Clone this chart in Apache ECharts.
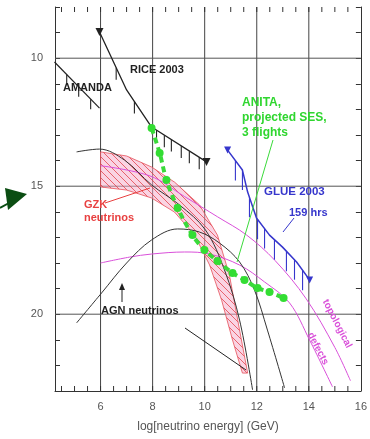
<!DOCTYPE html>
<html><head><meta charset="utf-8">
<script src="https://cdn.jsdelivr.net/npm/echarts@6/dist/echarts.min.js"></script>
<style>html,body{margin:0;padding:0;background:#fff}#c{width:370px;height:439px}</style>
</head><body><div id="c"></div>
<script>
// ---- axes ----
const X_MIN = 4.25, X_MAX = 16, Y_MIN = 8, Y_MAX = 23;
const xGridLines = [6, 8, 10, 12, 14];
const yGridLines = [10, 15, 20];
const xMinorTicks = [4.5,5,5.5,6,6.5,7,7.5,8,8.5,9,9.5,10,10.5,11,11.5,12,12.5,13,13.5,14,14.5,15,15.5];
const xTickLabels = [6, 8, 10, 12, 14, 16];
const yTickLabels = [10, 15, 20];

// ---- experimental upper limits ----
const amandaLimit = [[4.23,10.15],[5.96,11.95]];
const amandaArrows = [[4.7,10.64],[5.16,11.12],[5.62,11.6]];
const riceLimit = [[5.96,8.98],[7.0,11.24],[7.96,12.69],[10.07,14.05]];
const riceArrows = [[6.6,10.37],[7.3,11.69],[8.15,12.81],[8.45,13.01],[8.72,13.18],[9.1,13.43],[9.41,13.63],[9.79,13.87]];
const glueLimit = [[10.88,13.59],[11.45,14.37],[11.65,15.23],[11.99,16.24],[12.49,16.91],[12.99,17.38],[13.53,17.96],[14.03,18.66]];
const glueArrows = [[11.18,14.0],[11.45,14.37],[11.72,15.43],[12.03,16.29],[12.3,16.65],[12.68,17.09],[13.14,17.54],[13.45,17.87],[13.76,18.28]];

// ---- ANITA projected sensitivity ----
const anitaSes = [[7.96,12.73],[8.27,13.7],[8.53,14.76],[8.96,15.85],[9.53,16.91],[9.99,17.49],[10.49,17.92],[11.07,18.39],[11.53,18.66],[12.03,18.98],[12.49,19.13],[13.03,19.37]];

// ---- model fluxes ----
const gzkUpper = [[6.0,13.66],[7.0,13.82],[7.96,14.25],[8.84,14.84],[9.8,15.73],[10.49,16.91],[10.95,18.47],[11.34,20.62],[11.65,22.3]];
const gzkLower = [[6.0,15.03],[7.0,15.15],[7.96,15.46],[8.84,16.01],[9.61,16.91],[10.19,18.08],[10.65,19.45],[11.07,21.01],[11.45,22.3]];
const modelBlackA = [[5.08,13.66],[5.96,13.55],[6.92,13.98],[7.96,14.95],[9.03,15.73],[10.03,16.71],[10.76,18.27],[11.34,20.23],[11.84,22.96]];
const agnFlux = [[5.08,20.34],[6.04,19.17],[7.0,18.0],[7.96,17.1],[8.96,16.67],[9.8,16.79],[10.57,17.22],[11.34,17.96],[11.91,19.05],[12.41,20.62],[13.07,22.88]];
const magentaLow = [[6.0,18.0],[7.11,17.77],[7.96,17.65],[9.23,17.57],[10.19,17.65],[11.34,18.08],[12.3,18.74],[13.26,19.56],[14.03,21.01],[14.91,22.84]];
const magentaHigh = [[6.0,14.2],[7.9,14.6],[9.22,15.4],[10.5,16.2],[11.6,16.9],[12.7,17.9],[13.9,19.4],[15.0,21.3],[15.6,22.6]];

const chart = echarts.init(document.getElementById('c'));

// diagonal red hatching for the GZK band
const hatch = document.createElement('canvas');
hatch.width = 7; hatch.height = 7;
(function(){
  const g = hatch.getContext('2d');
  g.fillStyle = 'rgba(245,170,200,0.5)';
  g.fillRect(0,0,7,7);
  g.strokeStyle = 'rgba(225,60,70,0.75)';
  g.lineWidth = 1;
  g.beginPath();
  g.moveTo(-1,-1); g.lineTo(8,8);
  g.moveTo(-1,6); g.lineTo(1,8);
  g.moveTo(6,-1); g.lineTo(8,1);
  g.stroke();
})();

function arrowSeries(data, color, len) {
  return {
    type: 'custom', data: data, clip: true, z: 4, silent: true,
    renderItem(params, api) {
      const p = api.coord([api.value(0), api.value(1)]);
      return { type: 'line', shape: {x1:p[0], y1:p[1], x2:p[0], y2:p[1]+len},
               style: {stroke: color, lineWidth: 1.1} };
    }
  };
}
function curve(data, color, width, extra) {
  return Object.assign({
    type: 'line', data: data, smooth: 0.35, showSymbol: false, z: 3,
    lineStyle: {color: color, width: width}, silent: true
  }, extra || {});
}
// markers only at both ends of a limit curve
function endMarkers(n) {
  return (v, p) => (p.dataIndex === 0 || p.dataIndex === n - 1) ? 'triangle' : 'none';
}

const font = '"Liberation Sans", Arial, sans-serif';
function txt(x, y, s, color, size, bold, rot) {
  return {type:'text', x:x, y:y, rotation: rot || 0, z: 10,
    style:{text:s, fill:color, font:(bold?'bold ':'')+size+'px '+font, verticalAlign:'middle'}};
}
function seg(x1,y1,x2,y2,color,w){
  return {type:'line', z:10, shape:{x1,y1,x2,y2}, style:{stroke:color, lineWidth:w||1}};
}

chart.setOption({
  animation: false,
  grid: {left: 55, right: 9, top: 7, bottom: 48},
  xAxis: {
    type: 'value', min: X_MIN, max: X_MAX, interval: 0.25,
    name: 'log[neutrino energy] (GeV)', nameLocation: 'middle', nameGap: 30,
    nameTextStyle: {color: '#555', fontSize: 12, fontFamily: font},
    axisLine: {lineStyle: {color: '#333'}},
    axisTick: {show: false}, splitLine: {show: false},
    axisLabel: {color: '#555', fontSize: 11, fontFamily: font, margin: 10,
      showMinLabel: true, showMaxLabel: true,
      formatter: v => xTickLabels.indexOf(Math.round(v*100)/100) >= 0 ? String(Math.round(v)) : ''}
  },
  yAxis: [{
    type: 'value', min: Y_MIN, max: Y_MAX, interval: 1, inverse: true,
    axisLine: {lineStyle: {color: '#333'}},
    axisTick: {inside: true, length: 5, lineStyle: {color: '#333'}},
    splitLine: {show: false},
    axisLabel: {color: '#555', fontSize: 11, fontFamily: font, margin: 12,
      formatter: v => yTickLabels.indexOf(v) >= 0 ? String(v) : ''}
  }, {
    type: 'value', min: Y_MIN, max: Y_MAX, interval: 1, inverse: true, position: 'right',
    axisLine: {show: true, lineStyle: {color: '#333'}},
    axisTick: {inside: true, length: 5, lineStyle: {color: '#333'}},
    splitLine: {show: false}, axisLabel: {show: false}
  }],
  series: [
    // grid lines
    { type: 'custom', data: xGridLines, z: 1, silent: true,
      renderItem(params, api) {
        const a = api.coord([api.value(0), Y_MIN]), b = api.coord([api.value(0), Y_MAX]);
        return {type:'line', shape:{x1:a[0],y1:a[1],x2:b[0],y2:b[1]}, style:{stroke:'#444', lineWidth:1}};
      }},
    { type: 'custom', data: yGridLines, z: 1, silent: true,
      renderItem(params, api) {
        const a = api.coord([X_MIN, api.value(0)]), b = api.coord([X_MAX, api.value(0)]);
        return {type:'line', shape:{x1:a[0],y1:a[1],x2:b[0],y2:b[1]}, style:{stroke:'#555', lineWidth:1}};
      }, encode: {y: 0}},
    // top and bottom tick marks
    { type: 'custom', data: xMinorTicks, z: 2, silent: true,
      renderItem(params, api) {
        const a = api.coord([api.value(0), Y_MIN]), b = api.coord([api.value(0), Y_MAX]);
        return {type:'group', children:[
          {type:'line', shape:{x1:a[0],y1:a[1],x2:a[0],y2:a[1]+5}, style:{stroke:'#333', lineWidth:1}},
          {type:'line', shape:{x1:b[0],y1:b[1],x2:b[0],y2:b[1]-5}, style:{stroke:'#333', lineWidth:1}}
        ]};
      }},
    // GZK band
    { type: 'custom', data: [0], z: 2, silent: true, clip: true,
      renderItem(params, api) {
        const pts = gzkUpper.map(p => api.coord(p)).concat(gzkLower.slice().reverse().map(p => api.coord(p)));
        return {type:'polygon', shape:{points: pts},
                style:{fill:{image: hatch, repeat:'repeat'}, stroke:'rgba(230,80,90,0.8)', lineWidth:1}};
      }},
    curve(magentaHigh, '#d94fd9', 1),
    curve(magentaLow, '#d94fd9', 1),
    curve(modelBlackA, '#333', 1),
    curve(agnFlux, '#333', 1),
    // limits
    curve(amandaLimit, '#222', 1.2, {smooth: false}),
    arrowSeries(amandaArrows, '#222', 10),
    curve(riceLimit, '#222', 1.3, {smooth: false, showSymbol: true, symbol: endMarkers(riceLimit.length),
      symbolRotate: 180, symbolSize: 8, itemStyle: {color: '#222'}}),
    arrowSeries(riceArrows, '#222', 12),
    curve(glueLimit, '#3636cc', 1.5, {smooth: false, showSymbol: true, symbol: endMarkers(glueLimit.length),
      symbolRotate: 180, symbolSize: 7, itemStyle: {color: '#3636cc'}}),
    arrowSeries(glueArrows, '#3636cc', 20),
    // ANITA
    curve(anitaSes, '#3ada3a', 4, {smooth: 0.3, showSymbol: true, symbol: 'circle', symbolSize: 8,
      itemStyle: {color: '#33dd33'}, lineStyle: {color: '#3ada3a', width: 4, type: [6, 4]}, z: 5})
  ],
  graphic: [
    // arrow on the left margin
    {type:'polygon', z:10, shape:{points:[[5,188],[27,194],[8,210]]}, style:{fill:'#0b4d12'}},
    seg(0,208,9,203,'#0b4d12',2),
    txt(130, 70, 'RICE 2003', '#222', 11, true),
    txt(63, 88, 'AMANDA', '#222', 11, true),
    txt(242, 103, 'ANITA,', '#2fd62f', 12, true),
    txt(242, 118, 'projected SES,', '#2fd62f', 12, true),
    txt(242, 133, '3 flights', '#2fd62f', 12, true),
    seg(273,140,237,262,'#3ada3a',1),
    txt(84, 205, 'GZK', '#e84040', 11, true),
    txt(84, 218, 'neutrinos', '#e84040', 11, true),
    seg(105,203,150,188,'#e84040',1),
    txt(264, 192, 'GLUE 2003', '#3636cc', 11.5, true),
    txt(289, 213, '159 hrs', '#3636cc', 11, true),
    seg(283,232,294,218,'#3636cc',1),
    txt(101, 311, 'AGN neutrinos', '#222', 11, true),
    seg(122,302,122,287,'#222',1),
    {type:'polygon', z:10, shape:{points:[[119,290],[122,283],[125,290]]}, style:{fill:'#222'}},
    seg(185,328,246,370,'#222',1),
    txt(325, 300, 'topological', '#d94fd9', 10, true, -1.1),
    txt(310, 333, 'defects', '#d94fd9', 10, true, -1.1)
  ]
});
</script></body></html>
